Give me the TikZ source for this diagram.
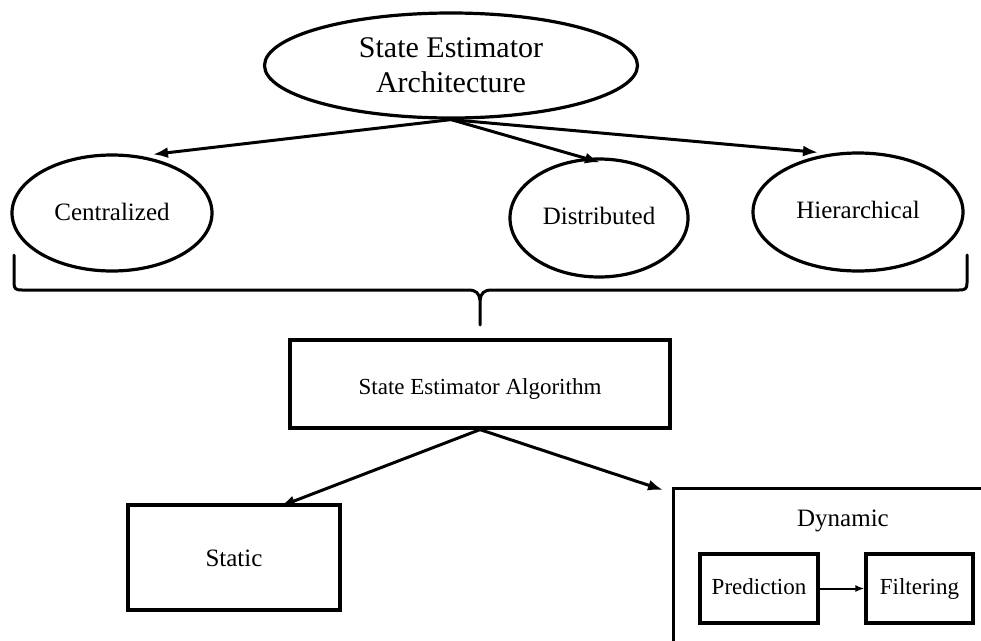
\documentclass[tikz,border=0pt]{standalone}
\usepackage{fontspec}
\setmainfont{Liberation Serif}
\usetikzlibrary{shapes.geometric,arrows.meta}
\begin{document}
\begin{tikzpicture}[x=1pt,y=-1pt,
  ell/.style={draw,ellipse,line width=3.2pt,inner sep=0pt,font=\fontsize{25}{29}\selectfont},
  box/.style={draw,rectangle,line width=3.2pt,inner sep=0pt},
  fixedA/.style={text height=17.5pt,text depth=5.5pt},
  fixedB/.style={text height=16pt,text depth=5pt},
  conn/.style={line width=3pt,-{Latex[length=15pt,width=11pt]}},
  small/.style={line width=2pt,-{Latex[length=9pt,width=7pt]}},
  bracestyle/.style={line width=3pt,line cap=round}]
\clip (0,0) rectangle (981,640);
\fill[white] (0,0) rectangle (981,640);
% top ellipse
\node[ell,minimum width=373pt,minimum height=105pt,align=center,font=\fontsize{30}{35}\selectfont] (top) at (451,65.5) {State Estimator\\Architecture};
\node[ell,fixedA,text height=20pt,minimum width=200pt,minimum height=116pt] (cent) at (112,213) {Centralized};
\node[ell,fixedA,minimum width=178pt,minimum height=118pt] (dist) at (599,218) {Distributed};
\node[ell,fixedA,minimum width=210pt,minimum height=118pt] (hier) at (858,212) {Hierarchical};
\draw[conn] (top.south) -- ([xshift=41pt,yshift=-1pt]cent.north);
\draw[conn] (top.south) -- ([xshift=1pt,yshift=-5pt]dist.north);
\draw[conn] (top.south) -- ([xshift=-40pt,yshift=-1pt]hier.north);
% brace
\draw[bracestyle] (14,255) -- (14,283) .. controls (14,289) and (16,290) .. (22,290) -- (468,290) .. controls (476,290) and (479,293) .. (480,300) -- (480,325);
\draw[bracestyle] (967,255) -- (967,283) .. controls (967,289) and (965,290) .. (959,290) -- (492,290) .. controls (484,290) and (481,293) .. (480,300);
% algorithm
\node[box,fixedB,text height=25pt,minimum width=380pt,minimum height=88pt,font=\fontsize{23}{27}\selectfont] (alg) at (480,384) {State Estimator Algorithm};
\node[box,fixedA,text height=23pt,minimum width=212pt,minimum height=105pt,font=\fontsize{25}{29}\selectfont] (stat) at (234,557.5) {Static};
\node[box,anchor=north west,minimum width=400pt,minimum height=200pt] (dyn) at (672,487) {};
\node[fixedA,font=\fontsize{25}{29}\selectfont] (dynlbl) at (843,520) {Dynamic};
\node[box,fixedB,minimum width=118pt,minimum height=69pt,font=\fontsize{23}{27}\selectfont] (pred) at (759,588.5) {Prediction};
\node[box,fixedB,minimum width=107pt,minimum height=69pt,font=\fontsize{23}{27}\selectfont] (filt) at (919.5,588.5) {Filtering};
\draw[conn] (alg.south) -- ([xshift=46pt,yshift=-3pt]stat.north);
\draw[conn] (alg.south) -- ([xshift=-9pt,yshift=-3pt]dyn.north west);
\draw[small] (pred.east) -- (filt.west);
\end{tikzpicture}
\end{document}
